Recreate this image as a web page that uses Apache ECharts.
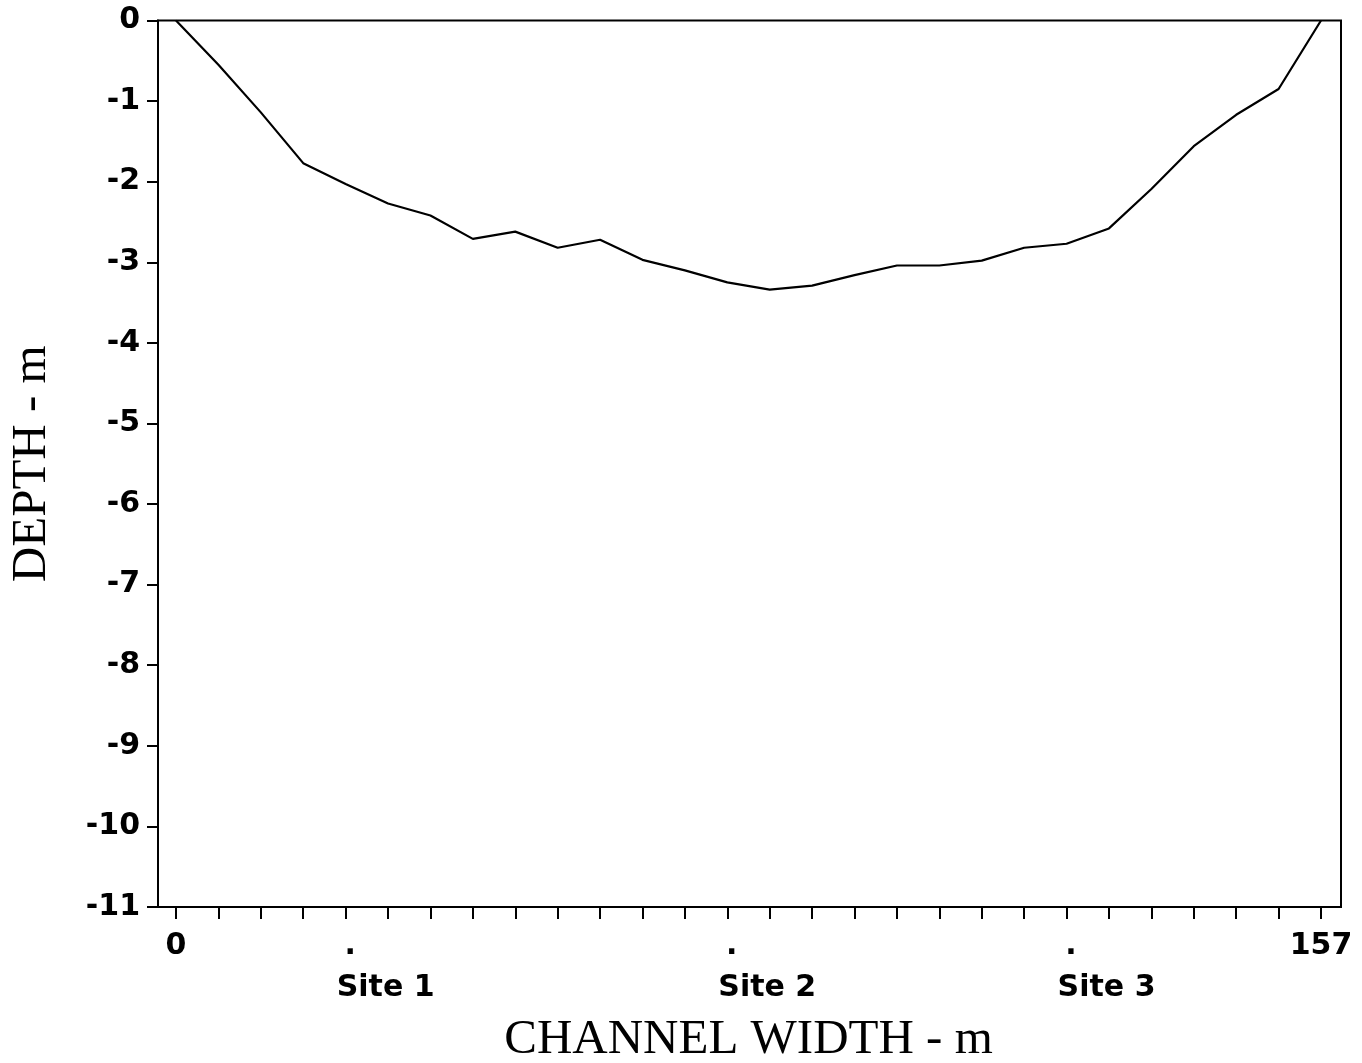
<!DOCTYPE html>
<html>
<head>
<meta charset="utf-8">
<title>Channel cross-section</title>
<script src="https://cdn.jsdelivr.net/npm/echarts@6/dist/echarts.min.js"></script>
<style>
  html, body { margin: 0; padding: 0; background: #fff; }
  #chart { width: 1362px; height: 1063px; }
</style>
</head>
<body>
<div id="chart"></div>
<script>
// Survey stations across the channel (28 equally spaced soundings, 0 to 157 m)
const stationLabels = ['0', '', '', '', 'Site 1', '', '', '', '', '', '', '', '', 'Site 2',
  '', '', '', '', '', '', '', 'Site 3', '', '', '', '', '', '157'];

// Depth at each station, metres below the water surface
const depthValues = [0, -0.55, -1.14, -1.77, -2.03, -2.27, -2.42, -2.71, -2.62, -2.82,
  -2.72, -2.97, -3.10, -3.25, -3.34, -3.29, -3.16, -3.04, -3.04, -2.98,
  -2.82, -2.77, -2.58, -2.09, -1.56, -1.17, -0.85, 0];

// Depth axis range
const depthMin = -11;
const depthMax = 0;
const depthStep = 1;

const tickFont = { fontFamily: 'DejaVu Sans', fontWeight: 'bold', fontSize: 30, color: '#000' };
const titleFont = { fontFamily: 'Liberation Serif', fontWeight: 'normal', fontSize: 49, color: '#000' };

const chart = echarts.init(document.getElementById('chart'), null, { renderer: 'canvas' });

chart.setOption({
  animation: false,
  backgroundColor: '#fff',
  grid: [
    // frame with the depth scale
    { left: 158, right: 21, top: 20.5, bottom: 156, outerBoundsMode: 'none', containLabel: false,
      show: true, borderColor: '#000', borderWidth: 2, backgroundColor: 'transparent' },
    // stations inset from the frame edges
    { left: 176, right: 41, top: 20.5, bottom: 156, outerBoundsMode: 'none', containLabel: false }
  ],
  xAxis: [
    { gridIndex: 0, type: 'value', min: 0, max: 1, show: false },
    {
      gridIndex: 1,
      type: 'category',
      position: 'bottom',
      boundaryGap: false,
      data: stationLabels,
      name: 'CHANNEL WIDTH - m',
      nameLocation: 'middle',
      nameGap: 109,
      nameTextStyle: titleFont,
      axisLine: { show: false, onZero: false },
      axisTick: { show: true, inside: false, interval: 0, length: 12, lineStyle: { color: '#000', width: 2 } },
      axisLabel: {
        interval: 0,
        margin: 18,
        hideOverlap: false,
        formatter: function (v) {
          if (!v) return '';
          if (v.indexOf('Site') === 0) return '{dot|.}\n{site|' + v + '}';
          return '{end|' + v + '}';
        },
        rich: {
          end: Object.assign({ align: 'center', lineHeight: 42 }, tickFont),
          dot: Object.assign({ align: 'center', lineHeight: 42, padding: [0, 0, 0, 9] }, tickFont),
          site: Object.assign({ align: 'center', lineHeight: 42, padding: [0, 0, 0, 80] }, tickFont)
        }
      },
      splitLine: { show: false }
    }
  ],
  yAxis: [
    {
      gridIndex: 0,
      type: 'value',
      min: depthMin,
      max: depthMax,
      interval: depthStep,
      name: 'DEPTH - m',
      nameLocation: 'middle',
      nameRotate: 90,
      nameGap: 101,
      nameTextStyle: titleFont,
      axisLine: { show: true, lineStyle: { color: '#000', width: 2 } },
      axisTick: { show: true, inside: false, length: 11, lineStyle: { color: '#000', width: 2 } },
      axisLabel: Object.assign({ margin: 18 }, tickFont),
      splitLine: { show: false }
    },
    { gridIndex: 1, type: 'value', min: depthMin, max: depthMax, show: false }
  ],
  series: [
    {
      type: 'line',
      xAxisIndex: 1,
      yAxisIndex: 1,
      data: depthValues,
      symbol: 'none',
      lineStyle: { color: '#000', width: 2.2 },
      z: 5
    }
  ]
});
</script>
</body>
</html>
